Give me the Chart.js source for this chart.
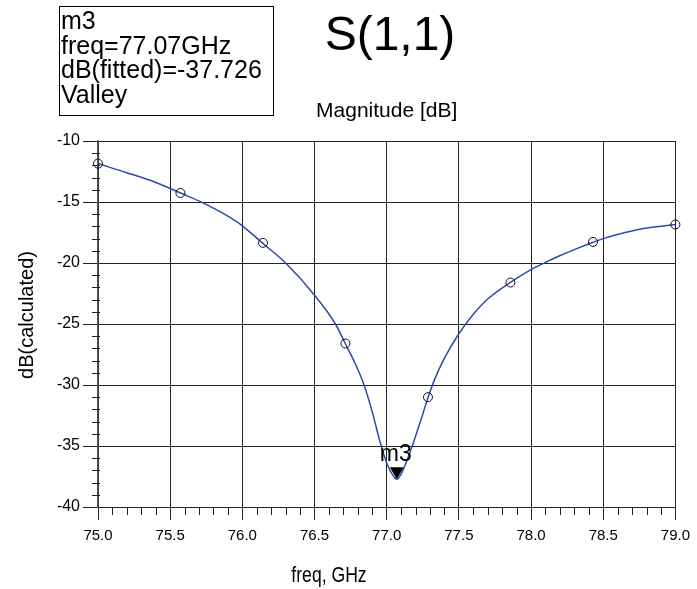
<!DOCTYPE html>
<html>
<head>
<meta charset="utf-8">
<script src="https://cdn.jsdelivr.net/npm/chart.js@4/dist/chart.umd.min.js"></script>
<style>
html,body{margin:0;padding:0;background:#fff;}
#wrap{width:697px;height:589px;}
</style>
</head>
<body>
<div id="wrap"><canvas id="c" width="697" height="589"></canvas></div>
<script>
// fitted curve
const fitFreq = [75.0, 75.2, 75.4, 75.571, 75.727, 75.888, 76.0, 76.138, 76.3, 76.5, 76.645, 76.713, 76.78, 76.84, 76.9, 76.95, 77.0, 77.04, 77.07, 77.1, 77.14, 77.18, 77.236, 77.287, 77.33, 77.4, 77.5, 77.593, 77.7, 77.862, 78.0, 78.1, 78.19, 78.3, 78.43, 78.5, 78.652, 78.79, 79.0];
const fitDb   = [-11.85, -12.6, -13.4, -14.26, -15.07, -16.08, -16.95, -18.35, -20.0, -22.64, -25.0, -26.6, -28.2, -29.9, -32.2, -34.5, -36.4, -37.35, -37.726, -37.3, -36.2, -34.9, -32.9, -31.0, -29.6, -27.8, -25.8, -24.3, -22.95, -21.55, -20.55, -19.95, -19.45, -18.9, -18.3, -18.0, -17.5, -17.15, -16.85];
// measured (calculated) points shown as circles
const measFreq = [75.0, 75.571, 76.143, 76.714, 77.286, 77.857, 78.429, 79.0];
const measDb   = [-11.85, -14.26, -18.35, -26.6, -31.0, -21.6, -18.27, -16.85];
// tick values
const xTicks = [75.0, 75.5, 76.0, 76.5, 77.0, 77.5, 78.0, 78.5, 79.0];
const yTicks = [-40, -35, -30, -25, -20, -15, -10];
// marker
const markerName = "m3";
const markerFreq = 77.07;
const markerDb = -37.726;

const fitData = fitFreq.map((f, i) => ({x: f, y: fitDb[i]}));
const measData = measFreq.map((f, i) => ({x: f, y: measDb[i]}));

const SANS = "'Liberation Sans', Arial, Helvetica, sans-serif";

const deco = {
  id: 'deco',
  beforeDatasetsDraw(chart) {
    const ctx = chart.ctx;
    const xs = chart.scales.x, ys = chart.scales.y;
    ctx.save();
    ctx.strokeStyle = '#222';
    ctx.lineWidth = 1;
    // minor y ticks
    for (let v = -40; v <= -10; v += 1) {
      if (v % 5 === 0) continue;
      const py = Math.round(ys.getPixelForValue(v)) + 0.5;
      ctx.beginPath(); ctx.moveTo(92, py); ctx.lineTo(100, py); ctx.stroke();
    }
    // minor x ticks
    for (let k = 0; k <= 40; k++) {
      if (k % 5 === 0) continue;
      const v = 75 + k * 0.1;
      const px = Math.round(xs.getPixelForValue(v)) + 0.5;
      ctx.beginPath(); ctx.moveTo(px, 507); ctx.lineTo(px, 515); ctx.stroke();
    }
    ctx.restore();
  },
  afterDraw(chart) {
    const ctx = chart.ctx;
    const xs = chart.scales.x, ys = chart.scales.y;
    const ca = chart.chartArea;
    ctx.save();
    ctx.fillStyle = '#000';
    // marker info box
    ctx.strokeStyle = '#000';
    ctx.lineWidth = 1;
    ctx.strokeRect(59.5, 6.5, 214, 109);
    ctx.font = '25px ' + SANS;
    ctx.textAlign = 'left';
    ctx.textBaseline = 'alphabetic';
    ctx.fillText(markerName, 61, 29);
    ctx.fillText('freq=' + markerFreq.toFixed(2) + 'GHz', 61, 53.5);
    ctx.fillText('dB(fitted)=' + markerDb.toFixed(3), 61, 78);
    ctx.fillText('Valley', 61, 102.5);
    // titles
    ctx.textAlign = 'center';
    ctx.font = '48px ' + SANS;
    ctx.fillText('S(1,1)', 390, 50);
    ctx.font = '21px ' + SANS;
    ctx.fillText('Magnitude [dB]', (ca.left + ca.right) / 2, 117);
    // axis titles
    ctx.save();
    ctx.translate(329, 582);
    ctx.scale(0.8, 1);
    ctx.font = '22px ' + SANS;
    ctx.fillText('freq, GHz', 0, 0);
    ctx.restore();
    ctx.save();
    ctx.translate(33, 315);
    ctx.rotate(-Math.PI / 2);
    ctx.font = '20px ' + SANS;
    ctx.fillText('dB(calculated)', 0, 0);
    ctx.restore();
    // marker triangle
    const px = xs.getPixelForValue(markerFreq);
    const py = ys.getPixelForValue(markerDb);
    ctx.beginPath();
    ctx.moveTo(px - 7, py - 12);
    ctx.lineTo(px + 7, py - 12);
    ctx.lineTo(px, py);
    ctx.closePath();
    ctx.fill();
    ctx.font = '23px ' + SANS;
    ctx.fillText(markerName, px - 1, py - 18);
    ctx.restore();
  }
};

new Chart(document.getElementById('c'), {
  type: 'line',
  data: {
    datasets: [
      {
        label: 'calculated',
        data: measData,
        showLine: false,
        clip: false,
        pointRadius: 4.5,
        pointHoverRadius: 4.5,
        pointBackgroundColor: 'rgba(0,0,0,0)',
        pointBorderColor: '#111',
        pointBorderWidth: 1,
        order: 0
      },
      {
        label: 'fitted',
        data: fitData,
        borderColor: '#2d4aa8',
        borderWidth: 1.5,
        pointRadius: 0,
        cubicInterpolationMode: 'monotone',
        fill: false,
        order: 1
      }
    ]
  },
  options: {
    responsive: false,
    animation: false,
    devicePixelRatio: 1,
    layout: {padding: {top: 141, right: 20, left: 0, bottom: 0}},
    plugins: {legend: {display: false}, tooltip: {enabled: false}, title: {display: false}},
    scales: {
      x: {
        type: 'linear',
        min: 75, max: 79,
        afterBuildTicks(s) { s.ticks = xTicks.map(v => ({value: v})); },
        afterFit(s) { s.height = 82; },
        grid: {color: '#222', lineWidth: 1, tickLength: 13, drawTicks: true},
        border: {color: '#222', width: 1},
        ticks: {
          padding: 7,
          color: '#000',
          font: {family: SANS, size: 15},
          maxRotation: 0,
          autoSkip: false,
          callback: v => Number(v).toFixed(1)
        }
      },
      y: {
        type: 'linear',
        min: -40, max: -10,
        afterBuildTicks(s) { s.ticks = yTicks.map(v => ({value: v})); },
        afterFit(s) { s.width = 98; },
        grid: {color: '#222', lineWidth: 1, tickLength: 15, drawTicks: true},
        border: {color: '#555', width: 1.5},
        ticks: {
          padding: 3,
          color: '#000',
          font: {family: SANS, size: 16},
          autoSkip: false,
          callback: v => String(v)
        }
      }
    }
  },
  plugins: [deco]
});
</script>
</body>
</html>
